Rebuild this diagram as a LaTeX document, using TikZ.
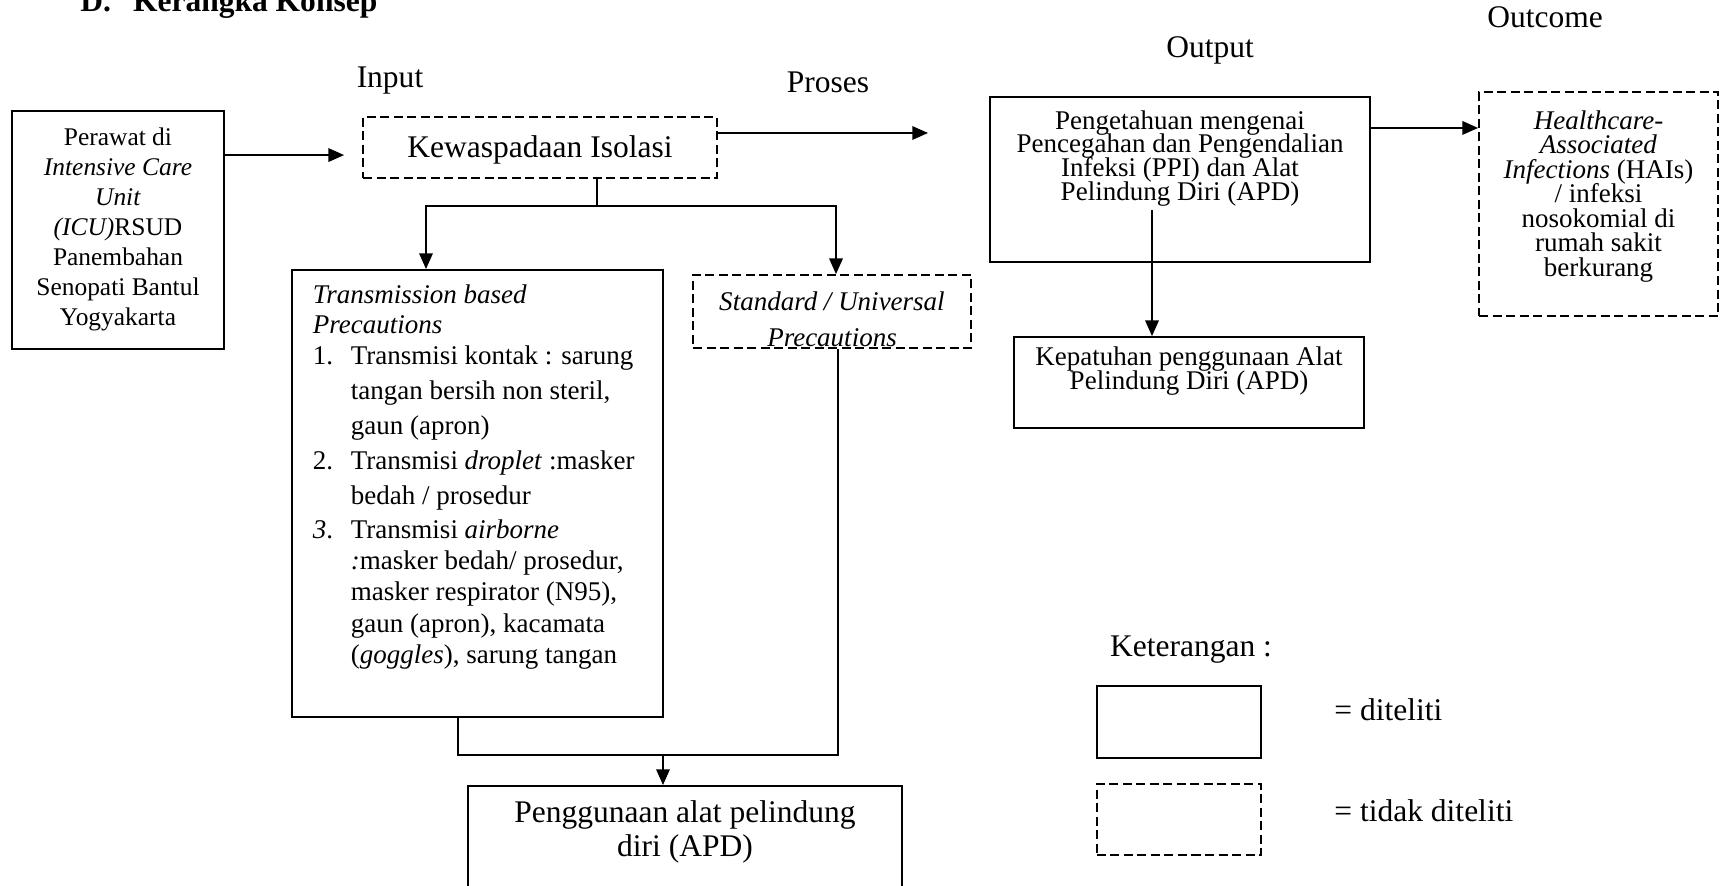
\documentclass[tikz,border=0pt]{standalone}
\usepackage{fontspec}
\setmainfont{Liberation Serif}
\usetikzlibrary{arrows.meta}

\setlength{\lineskiplimit}{-20pt}
\setlength{\normallineskiplimit}{-20pt}

\newcommand{\pxu}{0.4444pt}
\newcommand{\isikotak}[4]{\parbox[c][#1][t]{#2}{\vspace*{#3}#4}}

\begin{document}
\begin{tikzpicture}[x=\pxu, y=-\pxu, >={Triangle[length=7pt,width=6pt]},
  every node/.style={inner sep=0pt},
  kotak/.style={draw, line width=0.8pt},
  putus/.style={kotak, dash pattern=on 4pt off 2pt},
  garis/.style={line width=0.8pt},
  label14/.style={font=\fontsize{14}{16}\selectfont}]
  \useasboundingbox (0,0) rectangle (1720,886);

  \node[anchor=base west, font=\fontsize{14}{16}\selectfont\bfseries] (J) at (80,12) {D.\hspace{0.7em}Kerangka Konsep};
  \node[label14, anchor=base] (LI) at (390,88) {Input};
  \node[label14, anchor=base] (LP) at (828,93) {Proses};
  \node[label14, anchor=base] (LO) at (1210,58) {Output};
  \node[label14, anchor=base] (LC) at (1545,28) {Outcome};

  \node[kotak] (P) at (118,230) {\isikotak{105.8pt}{94.2pt}{7.6pt}{\fontsize{11.3}{13.3}\selectfont\centering
    Perawat di\\ \textit{Intensive Care}\\ \textit{Unit}\\ \textit{(ICU)}RSUD\\ Panembahan\\ Senopati Bantul\\ Yogyakarta}};
  \node[putus] (K) at (540,147.5) {\isikotak{27.1pt}{157.3pt}{8.2pt}{\fontsize{14}{16}\selectfont\centering
    Kewaspadaan Isolasi}};
  \node[kotak] (T) at (477.5,493.5) {\isikotak{198.7pt}{164.9pt}{6.5pt}{\fontsize{12}{13.6}\selectfont\raggedright\leftskip=9.3pt
    \textit{Transmission based}\\
    \textit{Precautions}\\
    \makebox[16.9pt][l]{1.}Transmisi kontak : sarung\\[1.9pt]
    \hspace*{16.9pt}tangan bersih non steril,\\[1.9pt]
    \hspace*{16.9pt}gaun (apron)\\[1.9pt]
    \makebox[16.9pt][l]{2.}Transmisi \textit{droplet} :masker\\[1.9pt]
    \hspace*{16.9pt}bedah / prosedur\\[1.9pt]
    \makebox[16.9pt][l]{\textit{3}.}Transmisi \textit{airborne}\\
    \hspace*{16.9pt}\textit{:}masker bedah/ prosedur,\\
    \hspace*{16.9pt}masker respirator (N95),\\[0.8pt]
    \hspace*{16.9pt}gaun (apron), kacamata\\
    \hspace*{16.9pt}(\textit{goggles}), sarung tangan}};
  \begin{scope}
    \clip (680,260) rectangle (985,349);
    \node[putus] (S) at (832,311.5) {\isikotak{32.4pt}{123.5pt}{7.4pt}{\fontsize{12}{16}\selectfont\centering\itshape
      Standard / Universal\\ Precautions}};
  \end{scope}
  \node[kotak] (A) at (685,843) {\isikotak{50.7pt}{192.9pt}{6.4pt}{\fontsize{14}{15.1}\selectfont\centering
    Penggunaan alat pelindung\\ diri (APD)}};

  \node[kotak] (PG) at (1180,179.5) {\isikotak{73.3pt}{168.9pt}{6pt}{\fontsize{12}{10.5}\selectfont\centering
    Pengetahuan mengenai\\ Pencegahan dan Pengendalian\\ Infeksi (PPI) dan Alat\\ Pelindung Diri (APD)}};
  \node[kotak] (KP) at (1189,382.5) {\isikotak{40.4pt}{155.6pt}{4.4pt}{\fontsize{12}{10.8}\selectfont\centering
    Kepatuhan penggunaan Alat\\ Pelindung Diri (APD)}};
  \node[putus] (HA) at (1598.5,204) {\isikotak{99.6pt}{106.2pt}{8.2pt}{\fontsize{12}{10.9}\selectfont\centering
    \textit{Healthcare-}\\ \textit{Associated}\\ \textit{Infections} (HAIs)\\ / infeksi\\ nosokomial di\\ rumah sakit\\ berkurang}};

  \node[label14, anchor=base] (KT) at (1191,657) {Keterangan :};
  \node[kotak, minimum width=72.9pt, minimum height=32pt] (L1) at (1179,722) {};
  \node[putus, minimum width=72.9pt, minimum height=31.6pt] (L2) at (1179,819.5) {};
  \node[label14, anchor=base west] (T1) at (1334,721) {= diteliti};
  \node[label14, anchor=base west] (T2) at (1334,822) {= tidak diteliti};

  \coordinate (U) at (928,133);
  \coordinate (C) at (597,206);
  \coordinate (CL) at (426,206);
  \coordinate (CR) at (836,206);
  \coordinate (GL) at (458,755);
  \coordinate (GR) at (838,755);
  \coordinate (GM) at (663,755);
  \coordinate (PK) at (1152,210);

  \draw[garis, ->, shorten >=8pt] ([yshift=33.3pt]P.east) -- ([yshift=33.3pt]P.east -| K.west);
  \draw[garis, ->] (K.east |- U) -- (U);
  \draw[garis] (K.south -| C) -- (C);
  \draw[garis, <->] (CL |- T.north) -- (CL) -- (CR) -- (CR |- S.north);
  \draw[garis] (GL |- T.south) -- (GL) -- (GR) -- (GR |- S.south);
  \draw[garis, ->] (GM) -- (GM |- A.north);
  \draw[garis, ->] ([yshift=22.9pt]PG.east) -- ([yshift=22.9pt]PG.east -| HA.west);
  \draw[garis, ->] (PK) -- (PK |- KP.north);
\end{tikzpicture}
\end{document}
